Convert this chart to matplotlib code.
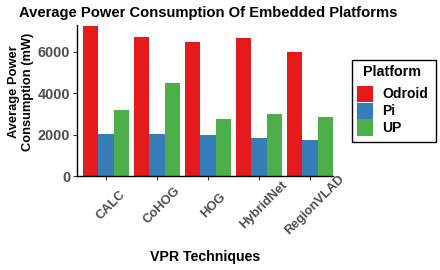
import matplotlib
matplotlib.use("Agg")
import matplotlib.pyplot as plt
import matplotlib.transforms as mtransforms
from matplotlib.patches import Rectangle
import numpy as np

plt.rcParams['font.family'] = ['Liberation Sans', 'DejaVu Sans']

techniques = ["CALC", "CoHOG", "HOG", "HybridNet", "RegionVLAD"]
platforms = ["Odroid", "Pi", "UP"]
odroid = [7257, 6725, 6483, 6676, 6000]
pi = [2032, 2032, 1984, 1838, 1742]
up = [3193, 4499, 2758, 3000, 2854]
colors = ["#E41A1C", "#377EB8", "#4DAF4A"]
yticks = [0, 2000, 4000, 6000]

W, H = 440, 270
fig = plt.figure(figsize=(W / 100, H / 100), dpi=100)
ax = fig.add_axes([77 / W, 1 - 176 / H, 256 / W, 151 / H])

def fx(px):
    return px / W

def fy(py):
    return 1 - py / H

x = np.arange(1, len(techniques) + 1)
bw = 0.3
series = [odroid, pi, up]
for i, (vals, c) in enumerate(zip(series, colors)):
    ax.bar(x + (i - 1) * bw, vals, width=bw, color=c, linewidth=0)

ax.set_xlim(0.43, 5.45)
ax.set_ylim(0, 7300)
ax.set_yticks(yticks)
ax.set_yticklabels([str(v) for v in yticks], fontsize=10.4, fontweight='bold', color='#4D4D4D')
ax.set_xticks(x)
ax.set_xticklabels([])
for s in ['top', 'right']:
    ax.spines[s].set_visible(False)
for s in ['left', 'bottom']:
    ax.spines[s].set_linewidth(1.0)
    ax.spines[s].set_color('black')
ax.tick_params(axis='both', length=3, width=0.8, color='#333333', pad=2)

# rotated x tick labels
trans = mtransforms.blended_transform_factory(ax.transData, ax.transAxes)
off = mtransforms.ScaledTranslation(5 / 100, -29 / 100, fig.dpi_scale_trans)
for xi, lab in zip(x, techniques):
    ax.text(xi, 0, lab, transform=trans + off, rotation=45, ha='center', va='center',
            rotation_mode='anchor', fontsize=9.3, fontweight='bold', color='#4D4D4D')

fig.text(fx(19), fy(13), "Average Power Consumption Of Embedded Platforms",
         ha='left', va='center', fontsize=10.6, fontweight='bold', color='black')
fig.text(fx(205), fy(257), "VPR Techniques", ha='center', va='center',
         fontsize=10.2, fontweight='bold', color='black')
fig.text(fx(21), fy(92), "Average Power\nConsumption (mW)", ha='center', va='center',
         rotation=90, fontsize=9.3, fontweight='bold', color='black', linespacing=1.2,
         multialignment='center')

# legend (manual, ggplot-like)
fig.patches.append(Rectangle((fx(352), fy(142)), fx(436) - fx(352), fy(60) - fy(142),
                             transform=fig.transFigure, facecolor='white',
                             edgecolor='black', linewidth=1.0))
fig.text(fx(392), fy(72), "Platform", ha='center', va='center', fontsize=10.3,
         fontweight='bold', color='black')
key_top = 86
key_h = 16.7
for i, (lab, c) in enumerate(zip(platforms, colors)):
    t = key_top + i * key_h
    fig.patches.append(Rectangle((fx(357), fy(t + key_h - 0.6)), fx(373) - fx(357),
                                 (key_h - 0.6) / H,
                                 transform=fig.transFigure, facecolor=c, edgecolor='none'))
    fig.text(fx(382), fy(t + key_h / 2), lab, ha='left', va='center', fontsize=10,
             fontweight='bold', color='black')

fig.savefig("out.png", dpi=100)
